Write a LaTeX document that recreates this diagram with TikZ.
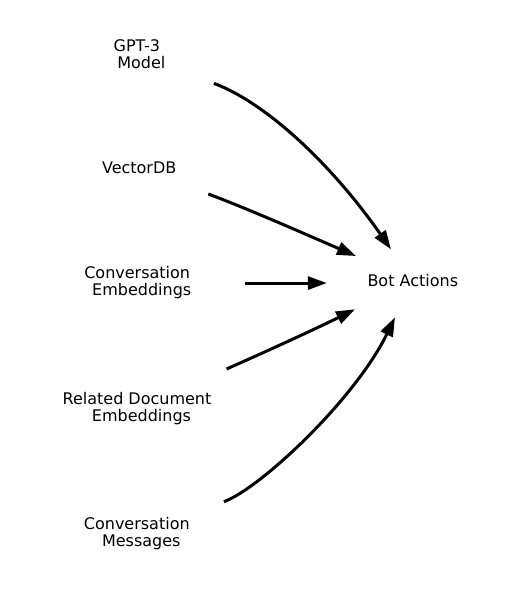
\documentclass[tikz,border=0pt]{standalone}
\usepackage{fontspec}
\setmainfont{DejaVu Sans}
\usetikzlibrary{arrows.meta}

\begin{document}
\begin{tikzpicture}[x=1pt,y=1pt,
	lbl/.style={font=\fontsize{16}{17}\selectfont,align=center,inner sep=0pt},
	arr/.style={line width=3pt,-{Triangle[length=19pt,width=13pt]}}]
	\useasboundingbox (0,0) rectangle (509,-590);
	\node[lbl] (gpt) at (136.8,-54.35) {GPT-3\\\hspace*{9pt}Model};
	\node[lbl] (vdb) at (139.2,-168.15) {VectorDB};
	\node[lbl] (convemb) at (137.2,-283.05) {Conversation\\\hspace*{9pt}Embeddings};
	\node[lbl] (reldoc) at (137,-408.3) {Related Document\\\hspace*{9pt}Embeddings};
	\node[lbl] (convmsg) at (136.8,-533.55) {Conversation\\\hspace*{9pt}Messages};
	\node[lbl] (bot) at (412.8,-280.6) {Bot Actions};
	\draw[arr,shorten <=82.4pt,shorten >=38.1pt] (gpt.center) to[out=-20.6,in=124.9] (bot.center);
	\draw[arr,shorten <=73.8pt,shorten >=61.9pt] (vdb.center) to[out=-20.5,in=156.6] (bot.center);
	\draw[arr,shorten <=107.8pt,shorten >=86pt] (convemb.center) -- (convemb.center -| bot.center);
	\draw[arr,shorten <=97.9pt,shorten >=64.5pt] (reldoc.center) to[out=23.7,in=206.4] (bot.center);
	\draw[arr,shorten <=92.8pt,shorten >=40.8pt] (convmsg.center) to[out=20.1,in=244.1,looseness=0.9] (bot.center);
\end{tikzpicture}
\end{document}
